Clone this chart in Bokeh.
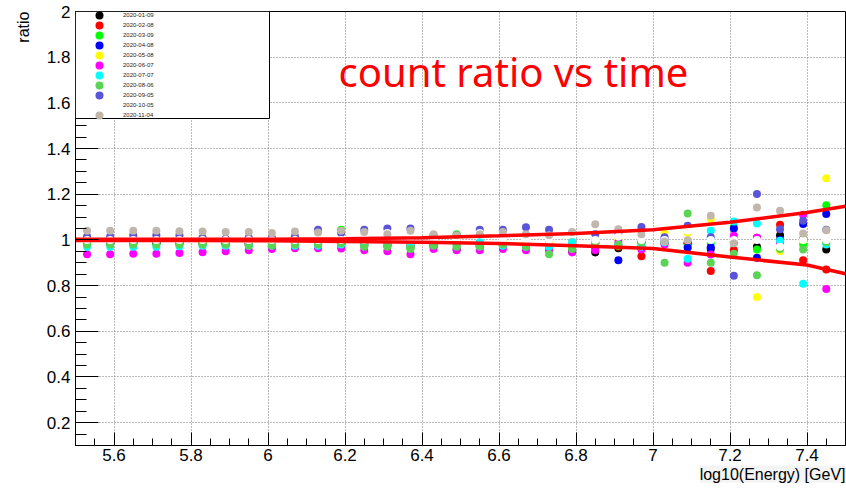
import numpy as np
from bokeh.plotting import figure
from bokeh.models import Range1d, FixedTicker, Legend, LegendItem, Label, BoxAnnotation, Title
from bokeh.embed import file_html
from bokeh.resources import INLINE

# ---------------- data ----------------
energy = [5.53, 5.59, 5.65, 5.71, 5.77, 5.83, 5.89, 5.95, 6.01, 6.07, 6.13,
          6.19, 6.25, 6.31, 6.37, 6.43, 6.49, 6.55, 6.61, 6.67, 6.73, 6.79,
          6.85, 6.91, 6.97, 7.03, 7.09, 7.15, 7.21, 7.27, 7.33, 7.39, 7.45]

dates = ["2020-01-09", "2020-02-08", "2020-03-09", "2020-04-08", "2020-05-08",
         "2020-06-07", "2020-07-07", "2020-08-06", "2020-09-05", "2020-10-05",
         "2020-11-04"]
colors = ["#000000", "#ff0000", "#00ff00", "#0000ff", "#ffff00", "#ff00ff",
          "#00ffff", "#59d454", "#5954d9", "#ffffff", "#c0b6ac"]

ratio_20200109 = [0.985, 0.985, 0.985, 0.985, 0.985, 0.985, 0.98, 0.98, 0.97, 0.98, 0.98,
                  0.98, 0.98, 0.98, 0.975, 0.975, 0.96, 0.97, 0.975, 0.975, 0.97, 0.95,
                  0.945, 0.963, 0.97, 0.99, 0.985, 0.96, 0.99, 0.97, 1.02, 1.003, 0.958]
ratio_20200208 = [0.99, 0.99, 0.99, 0.99, 0.99, 0.985, 0.985, 0.98, 0.97, 0.975, 0.98,
                  0.98, 0.975, 0.975, 0.97, 0.975, 0.98, 0.975, 0.975, 0.98, 0.975, 0.97,
                  0.965, 0.97, 0.929, 0.99, 0.985, 0.864, 0.955, 1.01, 1.066, 0.911, 0.87]
ratio_20200309 = [0.985, 0.985, 0.985, 0.985, 0.985, 0.98, 0.98, 0.985, 0.975, 0.975, 0.98,
                  1.045, 0.975, 0.975, 0.965, 0.975, 1.025, 0.975, 0.975, 0.975, 0.985, 0.965,
                  0.99, 0.975, 0.993, 0.99, 0.97, 0.987, 1.057, 0.958, 0.995, 0.98, 1.152]
ratio_20200408 = [0.99, 0.99, 0.99, 0.99, 0.99, 0.99, 0.985, 0.985, 0.985, 0.99, 0.99,
                  0.99, 0.99, 0.985, 0.99, 0.985, 0.99, 0.985, 0.985, 0.98, 0.985, 0.99,
                  0.985, 0.911, 0.99, 1.0, 0.966, 0.968, 1.05, 0.922, 1.0, 1.07, 1.113]
ratio_20200508 = [0.995, 0.995, 0.995, 0.995, 0.99, 0.99, 0.99, 0.99, 0.985, 0.99, 0.99,
                  0.99, 0.99, 0.985, 0.985, 0.99, 0.985, 0.985, 0.99, 0.985, 0.985, 0.99,
                  0.99, 1.0, 0.965, 1.031, 1.031, 1.09, 1.0, 0.75, 0.952, 1.0, 1.27]
ratio_20200607 = [0.937, 0.937, 0.94, 0.94, 0.943, 0.946, 0.95, 0.955, 0.96, 0.963, 0.963,
                  0.962, 0.955, 0.95, 0.937, 0.96, 0.955, 0.955, 0.96, 0.955, 0.955, 0.945,
                  0.955, 0.99, 0.958, 0.98, 0.9, 0.936, 1.018, 1.01, 0.99, 1.11, 0.785]
ratio_20200707 = [0.97, 0.97, 0.97, 0.97, 0.972, 0.975, 0.975, 0.975, 0.975, 0.975, 0.975,
                  0.98, 0.98, 0.98, 0.975, 0.98, 0.98, 0.99, 0.975, 0.97, 0.97, 0.99,
                  1.0, 0.98, 0.97, 0.99, 0.918, 1.04, 1.081, 1.072, 0.996, 0.808, 0.98]
ratio_20200806 = [0.98, 0.98, 0.98, 0.98, 0.98, 0.98, 0.98, 0.975, 0.975, 0.98, 0.98,
                  0.985, 0.97, 0.97, 0.96, 0.975, 0.97, 0.97, 0.98, 0.97, 0.937, 0.96,
                  0.99, 0.98, 0.99, 0.9, 1.116, 0.9, 0.94, 0.845, 0.96, 0.958, 0.99]
ratio_20200905 = [1.015, 1.015, 1.02, 1.02, 1.02, 1.01, 1.005, 1.01, 1.01, 1.015, 1.045,
                  1.03, 1.045, 1.05, 1.05, 1.02, 1.02, 1.045, 1.045, 1.055, 1.045, 1.03,
                  1.025, 1.03, 1.057, 1.012, 1.062, 1.012, 0.843, 1.201, 1.047, 1.084, 1.045]
ratio_20201005 = [1.0, 1.0, 1.0, 1.0, 1.0, 1.0, 1.0, 1.0, 1.0, 1.0, 1.0,
                  1.0, 1.0, 1.03, 1.0, 1.0, 1.0, 1.03, 1.0, 1.0, 1.0, 1.025,
                  1.0, 1.015, 1.0, 1.0, 1.04, 1.0, 1.0, 1.0, 0.97, 1.0, 1.0]
ratio_20201104 = [1.04, 1.04, 1.04, 1.04, 1.038, 1.037, 1.035, 1.035, 1.03, 1.037, 1.033,
                  1.04, 1.035, 1.025, 1.04, 1.025, 1.02, 1.025, 1.035, 1.025, 1.02, 1.035,
                  1.069, 1.047, 1.025, 0.993, 0.999, 1.106, 0.985, 1.142, 1.128, 1.028, 1.042]

series = [ratio_20200109, ratio_20200208, ratio_20200309, ratio_20200408,
          ratio_20200508, ratio_20200607, ratio_20200707, ratio_20200806,
          ratio_20200905, ratio_20201005, ratio_20201104]

fit_x = [5.5, 5.8, 6.0, 6.2, 6.4, 6.6, 6.8, 7.0, 7.2, 7.4, 7.5]
fit_upper = [1.003, 1.003, 1.003, 1.005, 1.010, 1.018, 1.028, 1.045, 1.077, 1.12, 1.147]
fit_lower = [0.997, 0.997, 0.996, 0.993, 0.990, 0.984, 0.975, 0.962, 0.925, 0.89, 0.852]

xticks = [5.6, 5.8, 6.0, 6.2, 6.4, 6.6, 6.8, 7.0, 7.2, 7.4]
xtick_labels = ["5.6", "5.8", "6", "6.2", "6.4", "6.6", "6.8", "7", "7.2", "7.4"]
yticks = [0.2, 0.4, 0.6, 0.8, 1.0, 1.2, 1.4, 1.6, 1.8, 2.0]
ytick_labels = ["0.2", "0.4", "0.6", "0.8", "1", "1.2", "1.4", "1.6", "1.8", "2"]

FONT = "Liberation Sans"
FRAME_H = 489 - 11 - 44

# ---------------- figure ----------------
p = figure(width=846, height=489, x_range=Range1d(5.5, 7.5), y_range=Range1d(0.1, 2.0),
           output_backend="svg", toolbar_location=None,
           min_border_left=75, min_border_right=1, min_border_top=11, min_border_bottom=44)
p.outline_line_color = "black"
p.outline_line_width = 1
p.background_fill_color = "white"
p.border_fill_color = "white"

xminor = [float(v) for v in np.round(np.arange(5.55, 7.5, 0.05), 2) if not np.any(np.isclose(v, xticks))]
yminor = [float(v) for v in np.round(np.arange(0.15, 2.0, 0.05), 2) if not np.any(np.isclose(v, yticks))]
xticker = FixedTicker(ticks=xticks, minor_ticks=xminor)
yticker = FixedTicker(ticks=yticks, minor_ticks=yminor)

for ax, tk, labels, tin, mtin in ((p.xaxis[0], xticker, dict(zip(xticks, xtick_labels)), 13, 7),
                                  (p.yaxis[0], yticker, dict(zip(yticks, ytick_labels)), 23, 11)):
    ax.ticker = tk
    ax.major_label_overrides = labels
    ax.major_tick_in = tin
    ax.major_tick_out = 0
    ax.minor_tick_in = mtin
    ax.minor_tick_out = 0
    ax.axis_line_color = "black"
    ax.major_tick_line_color = "black"
    ax.minor_tick_line_color = "black"
    ax.major_label_text_font = FONT
    ax.major_label_text_font_size = "17px"
    ax.major_label_text_color = "black"
p.xaxis.major_label_standoff = 3
p.yaxis.major_label_standoff = 5

for g, tk in ((p.xgrid[0], xticker), (p.ygrid[0], yticker)):
    g.ticker = tk
    g.grid_line_color = "#777777"
    g.grid_line_dash = "1 2"
    g.grid_line_width = 1

renderers = []
for vals, c in zip(series, colors):
    r = p.ellipse(x=energy, y=vals, width=8, height=8, width_units="screen",
                  height_units="screen", fill_color=c, line_color=None)
    renderers.append(r)

p.line(fit_x, fit_upper, line_color="#ff0000", line_width=3.5)
p.line(fit_x, fit_lower, line_color="#ff0000", line_width=3.5)

# legend box (white, black border) covering the top-left of the frame
p.add_layout(BoxAnnotation(left=0, right=194, top=FRAME_H, bottom=FRAME_H - 107,
                           left_units="screen", right_units="screen",
                           top_units="screen", bottom_units="screen",
                           fill_color="white", fill_alpha=1,
                           line_color="black", line_width=1, line_alpha=1))

items = [LegendItem(label=d, renderers=[r]) for d, r in zip(dates, renderers)]
legend = Legend(items=items, location=(0, FRAME_H + 1 - 110), margin=0, padding=0, spacing=0,
                glyph_width=48, glyph_height=10, label_width=146, label_height=10)
legend.label_standoff = 0
legend.label_text_font = FONT
legend.label_text_font_size = "6px"
legend.label_text_color = "#222222"
legend.border_line_alpha = 0
legend.background_fill_alpha = 0
p.add_layout(legend)

p.add_layout(Label(x=438, y=374, x_units="screen", y_units="screen", text="count ratio vs time",
                   text_font="Noto Sans", text_font_size="40px", text_color="#ff0000",
                   text_align="center", text_baseline="middle"))

p.add_layout(Title(text="log10(Energy) [GeV]", align="right", text_font=FONT,
                   text_font_size="16px", text_font_style="normal", text_color="black",
                   standoff=0, background_fill_color="#f4f4f4"), "below")
p.add_layout(Title(text="ratio", align="right", text_font=FONT,
                   text_font_size="16px", text_font_style="normal", text_color="black",
                   standoff=23), "left")

open("out.html", "w").write(file_html(p, INLINE))
